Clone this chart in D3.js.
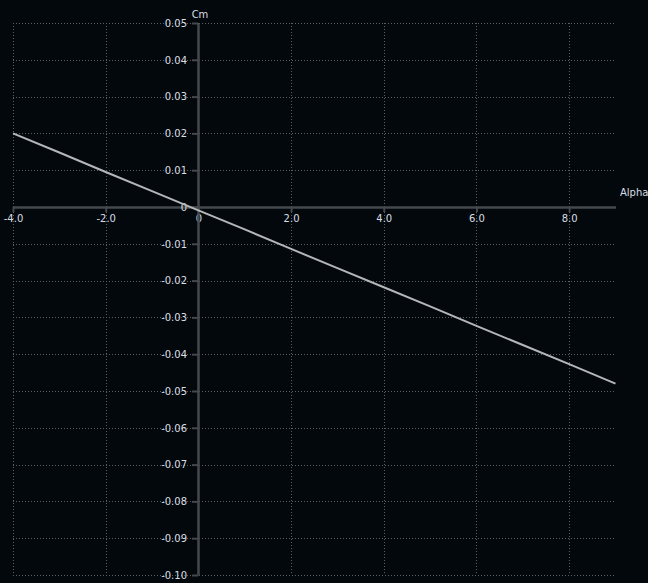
<!DOCTYPE html>
<html><head><meta charset="utf-8">
<script src="https://cdn.jsdelivr.net/npm/d3@7"></script>
<style>html,body{margin:0;padding:0;background:#03080d;overflow:hidden}</style>
</head><body><svg id="c" width="648" height="583"></svg>
<script>
const alpha = [-4, -3, -2, -1, 0, 1, 2, 3, 4, 5, 6, 7, 8, 9];
const cm = [0.0200, 0.0148, 0.0095, 0.0043, -0.0009, -0.0061, -0.0114, -0.0166, -0.0218, -0.0270, -0.0323, -0.0375, -0.0427, -0.0480];
const xTicks = [-4, -2, 0, 2, 4, 6, 8];
const xTickLabels = ["-4.0", "-2.0", "0", "2.0", "4.0", "6.0", "8.0"];
const yTicks = [0.05, 0.04, 0.03, 0.02, 0.01, 0, -0.01, -0.02, -0.03, -0.04, -0.05, -0.06, -0.07, -0.08, -0.09, -0.10];
const yTickLabels = ["0.05", "0.04", "0.03", "0.02", "0.01", "0", "-0.01", "-0.02", "-0.03", "-0.04", "-0.05", "-0.06", "-0.07", "-0.08", "-0.09", "-0.10"];
const xTitle = "Alpha", yTitle = "Cm";

const svg = d3.select("#c");
svg.append("rect").attr("width", 648).attr("height", 583).attr("fill", "#03080d");
const x = d3.scaleLinear().domain([-4, 9]).range([13, 615.5]);
const y = d3.scaleLinear().domain([-0.10, 0.05]).range([575, 23]);
const font = "'DejaVu Sans', Verdana, sans-serif";
const txt = "#d8dde3";

// grid
const g = svg.append("g");
g.selectAll(".vg").data(xTicks).join("line")
  .attr("x1", d => Math.round(x(d)) + 0.5).attr("x2", d => Math.round(x(d)) + 0.5)
  .attr("y1", y(0.05)).attr("y2", y(-0.10))
  .attr("stroke", "#5a5f66").attr("stroke-width", 1).attr("stroke-dasharray", "1,2");
g.selectAll(".hg").data(yTicks).join("line")
  .attr("y1", d => Math.round(y(d)) + 0.5).attr("y2", d => Math.round(y(d)) + 0.5)
  .attr("x1", x(-4)).attr("x2", x(9))
  .attr("stroke", "#5a5f66").attr("stroke-width", 1).attr("stroke-dasharray", "1,2");

// axes
const xAxis = d3.axisBottom(x).tickValues(xTicks).tickFormat((d, i) => xTickLabels[i]).tickSize(5).tickPadding(3).tickSizeOuter(0);
const yAxis = d3.axisLeft(y).tickValues(yTicks).tickFormat((d, i) => yTickLabels[i]).tickSize(6).tickPadding(5).tickSizeOuter(0);
const gx = svg.append("g").attr("transform", `translate(0,${Math.round(y(0))})`).call(xAxis);
const gy = svg.append("g").attr("transform", `translate(${Math.round(x(0))},0)`).call(yAxis);
[gx, gy].forEach(a => {
  a.select(".domain").attr("stroke", "#45494e").attr("stroke-width", 2.5);
  a.selectAll(".tick line").attr("stroke", "#45494e").attr("stroke-width", 2);
  a.selectAll("text").attr("fill", txt).attr("font-family", font).attr("font-size", 10);
});

// line
svg.append("path").datum(alpha.map((a, i) => [a, cm[i]]))
  .attr("d", d3.line().x(d => x(d[0])).y(d => y(d[1])))
  .attr("fill", "none").attr("stroke", "#b4b6b8").attr("stroke-width", 2);

// titles
svg.append("text").attr("x", 200).attr("y", 18).attr("text-anchor", "middle")
  .attr("fill", txt).attr("font-family", font).attr("font-size", 10).text(yTitle);
svg.append("text").attr("x", 620).attr("y", 196)
  .attr("fill", txt).attr("font-family", font).attr("font-size", 10).text(xTitle);
</script></body></html>
